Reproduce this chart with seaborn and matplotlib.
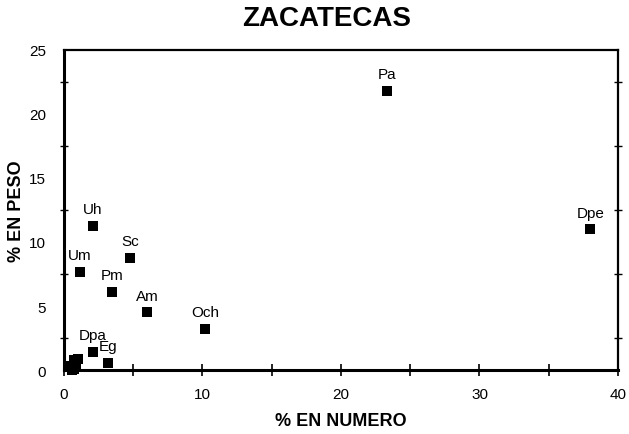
import matplotlib
matplotlib.use("Agg")
import matplotlib.pyplot as plt
import seaborn as sns
import pandas as pd
from matplotlib.ticker import MultipleLocator

# Data
labels = ["Pa", "Dpe", "Uh", "Sc", "Um", "Pm", "Am", "Och", "Dpa", "Eg",
          "", "", "", "", "", ""]
pct_numero = [23.3, 38.0, 2.1, 4.8, 1.15, 3.5, 6.0, 10.2, 2.1, 3.2,
              0.7, 0.5, 1.0, 0.7, 0.9, 0.6]
pct_peso = [21.8, 11.0, 11.25, 8.75, 7.65, 6.1, 4.5, 3.2, 1.4, 0.55,
            0.8, 0.3, 0.9, 0.1, 0.5, 0.0]

df = pd.DataFrame({"label": labels, "x": pct_numero, "y": pct_peso})

sns.set_theme(style="white", rc={"text.color": "black", "axes.labelcolor": "black",
                                 "xtick.color": "black", "ytick.color": "black"})
plt.rcParams["font.family"] = ["Liberation Sans", "DejaVu Sans"]

fig = plt.figure(figsize=(6.29, 4.35), dpi=100)
ax = fig.add_axes([0.1017, 0.147, 0.8808, 0.736])

sns.scatterplot(data=df, x="x", y="y", marker="s", s=60, color="black",
                edgecolor="black", linewidth=0, ax=ax, legend=False, zorder=3,
                clip_on=False)

for _, r in df.iterrows():
    if r["label"]:
        ax.annotate(r["label"], (r["x"], r["y"]), xytext=(0, 12),
                    textcoords="offset points", ha="center", va="center",
                    fontsize=11, color="black")

ax.set_xlim(0, 40)
ax.set_ylim(0, 25)
ax.xaxis.set_major_locator(MultipleLocator(10))
ax.xaxis.set_minor_locator(MultipleLocator(5))
ax.yaxis.set_major_locator(MultipleLocator(5))
ax.yaxis.set_minor_locator(MultipleLocator(2.5))

ax.tick_params(axis="both", which="major", labelsize=11, colors="black", pad=8)
ax.tick_params(axis="y", which="major", length=0, pad=13)
ax.tick_params(axis="y", which="minor", direction="inout", length=6, width=1,
               left=True, right=True)
ax.tick_params(axis="x", which="both", direction="inout", length=8, width=1.2,
               bottom=True)

for side in ["left", "bottom"]:
    ax.spines[side].set_linewidth(2.2)
    ax.spines[side].set_color("black")
for side in ["top", "right"]:
    ax.spines[side].set_linewidth(1.6)
    ax.spines[side].set_color("black")

ax.set_xlabel("% EN NUMERO", fontsize=13, fontweight="bold")
ax.set_ylabel("% EN PESO", fontsize=13, fontweight="bold")
ax.xaxis.set_label_coords(0.5, -0.131)
ax.yaxis.set_label_coords(-0.07, 0.5)
fig.text(327 / 629, 1 - 19 / 435, "ZACATECAS", fontsize=20, fontweight="heavy",
         ha="center", va="center", color="black")

fig.savefig("out.png", dpi=100)
